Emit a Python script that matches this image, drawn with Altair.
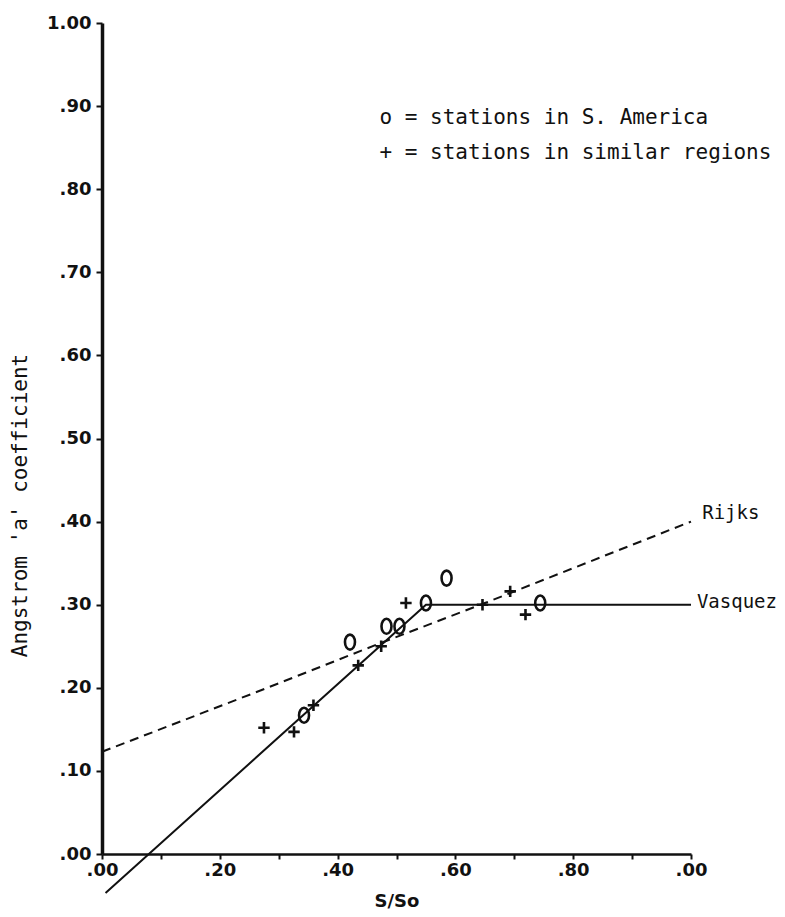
import altair as alt
import pandas as pd

# Stations in S. America ("o")
sa_x = [0.343, 0.421, 0.483, 0.505, 0.550, 0.585, 0.744]
sa_y = [0.167, 0.255, 0.274, 0.274, 0.302, 0.332, 0.302]

# Stations in similar regions ("+")
sim_x = [0.275, 0.326, 0.359, 0.435, 0.474, 0.516, 0.646, 0.693, 0.719]
sim_y = [0.152, 0.147, 0.179, 0.227, 0.250, 0.302, 0.300, 0.316, 0.288]

# Vasquez relation (solid)
vas_x = [0.006, 0.550, 1.000]
vas_y = [-0.047, 0.300, 0.300]

# Rijks relation (dashed)
rij_x = [0.000, 0.270, 0.470, 0.650, 1.000]
rij_y = [0.123, 0.197, 0.253, 0.302, 0.400]

x_ticks = [0.0, 0.1, 0.2, 0.3, 0.4, 0.5, 0.6, 0.7, 0.8, 0.9, 1.0]
y_ticks = [0.0, 0.1, 0.2, 0.3, 0.4, 0.5, 0.6, 0.7, 0.8, 0.9, 1.0]

legend_lines = ["o = stations in S. America", "+ = stations in similar regions"]
line_labels = ["Rijks", "Vasquez"]

MONO = "DejaVu Sans Mono"
SANS = "DejaVu Sans"
INK = "#111111"

sa = pd.DataFrame({"x": sa_x, "y": sa_y})
sim = pd.DataFrame({"x": sim_x, "y": sim_y})
vas = pd.DataFrame({"x": vas_x, "y": vas_y})
rij = pd.DataFrame({"x": rij_x, "y": rij_y})
leg = pd.DataFrame({"t": legend_lines, "x": [0.471, 0.471], "y": [0.886, 0.844]})
lab = pd.DataFrame({"t": line_labels, "x": [1.019, 1.010], "y": [0.410, 0.303]})

xscale = alt.Scale(domain=[0, 1], nice=False, zero=False)
yscale = alt.Scale(domain=[0, 1], nice=False, zero=False)

x_axis = alt.Axis(
    title="S/So", values=x_ticks,
    labelExpr="round(datum.value*10)%2==0 ? '.' + substring(format(datum.value,'.2f'),2) : ''",
    grid=False, domainColor=INK, domainWidth=2.5, tickColor=INK, tickWidth=2, tickSize=5,
    labelFont=SANS, labelFontSize=18, labelFontWeight="bold", labelColor=INK, labelPadding=2,
    titleFont=SANS, titleFontSize=18, titleFontWeight="bold", titleColor=INK, titlePadding=13,
    labelFlush=False, labelOverlap=False,
)
y_axis = alt.Axis(
    title="Angstrom 'a' coefficient", values=y_ticks,
    labelExpr="datum.value==1 ? '1.00' : '.' + substring(format(datum.value,'.2f'),2)",
    grid=False, domainColor=INK, domainWidth=3.5, tickColor=INK, tickWidth=2, tickSize=6,
    labelFont=SANS, labelFontSize=18, labelFontWeight="bold", labelColor=INK, labelPadding=5,
    titleFont=MONO, titleFontSize=21, titleFontWeight="normal", titleColor=INK, titlePadding=16,
    titleY=482,
    labelFlush=False, labelOverlap=False,
)

X = alt.X("x:Q", scale=xscale, axis=x_axis)
Y = alt.Y("y:Q", scale=yscale, axis=y_axis)
Xn = alt.X("x:Q", scale=xscale)
Yn = alt.Y("y:Q", scale=yscale)

vas_line = alt.Chart(vas).mark_line(color=INK, strokeWidth=2, clip=False).encode(x=X, y=Y, order="x:Q")
rij_line = alt.Chart(rij).mark_line(color=INK, strokeWidth=2, strokeDash=[9, 6], clip=False).encode(x=Xn, y=Yn, order="x:Q")

oval = "M0,-1.5A1,1.5 0 1,1 0,1.5A1,1.5 0 1,1 0,-1.5Z"
plus = "M-1,0L1,0M0,-1L0,1"

sa_pts = alt.Chart(sa).mark_point(shape=oval, size=100, filled=False, stroke=INK, strokeWidth=2.6, opacity=1).encode(x=Xn, y=Yn)
sim_pts = alt.Chart(sim).mark_point(shape=plus, size=130, filled=False, stroke=INK, strokeWidth=2.6, opacity=1).encode(x=Xn, y=Yn)

leg_txt = alt.Chart(leg).mark_text(font=MONO, fontSize=21, align="left", baseline="middle", color=INK).encode(
    x=Xn, y=Yn, text="t:N")
lab_txt = alt.Chart(lab).mark_text(font=MONO, fontSize=19, align="left", baseline="middle", color=INK).encode(
    x=Xn, y=Yn, text="t:N")

chart = alt.layer(vas_line, rij_line, sa_pts, sim_pts, leg_txt, lab_txt).properties(
    width=589, height=831,
    autosize=alt.AutoSizeParams(type="none"),
    padding={"left": 94, "top": 15, "right": 86, "bottom": 60},
    background="white",
).configure_view(stroke=None)

chart.save("out.html", embed_options={"renderer": "svg", "actions": False})
